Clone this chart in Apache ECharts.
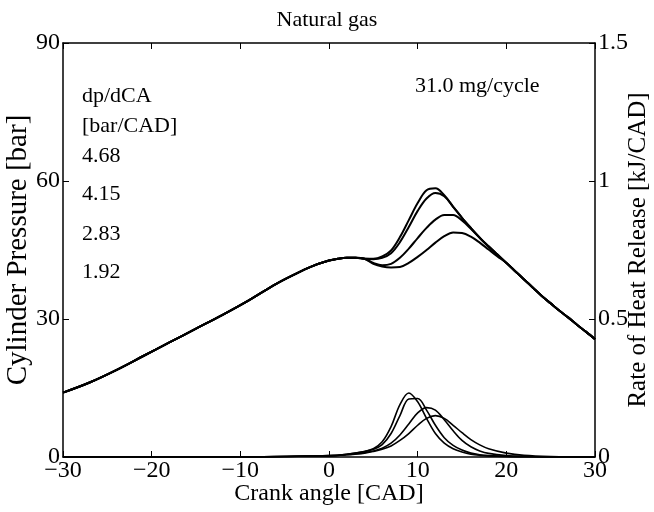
<!DOCTYPE html>
<html>
<head>
<meta charset="utf-8">
<script src="https://cdn.jsdelivr.net/npm/echarts@6/dist/echarts.min.js"></script>
<style>
  html, body { margin: 0; padding: 0; background: #fff; }
  #chart { width: 654px; height: 512px; }
</style>
</head>
<body>
<div id="chart"></div>
<script>
// motoring part, shared by all four pressure traces (CAD, bar)
var motorCad = [-30, -27, -24, -21, -18, -15, -12, -9, -6, -4, -2, 0, 1, 2, 3, 4];
var motorP = [14.0, 16.2, 18.9, 21.9, 24.9, 27.9, 30.9, 34.1, 37.6, 39.6, 41.4, 42.7, 43.1, 43.3, 43.3, 43.1];

// combustion part, one trace per dp/dCA value
var comboCad = [5, 6, 7, 8, 9, 10, 11, 12, 13, 14, 15, 16, 17, 18, 19, 20, 21, 22, 23, 24, 25, 26, 27, 28, 29, 30];
var p468 = [43.1, 43.6, 44.9, 47.8, 51.5, 55.2, 58.0, 58.4, 56.9, 54.4, 52.0, 49.8, 47.7, 45.8, 44.0, 42.2, 40.4, 38.6, 36.8, 35.0, 33.4, 31.8, 30.3, 28.7, 27.2, 25.6];
var p415 = [43.0, 43.3, 44.3, 46.7, 50.0, 53.5, 56.2, 57.4, 56.7, 54.4, 52.0, 49.8, 47.7, 45.8, 44.0, 42.2, 40.4, 38.6, 36.8, 35.0, 33.4, 31.8, 30.3, 28.7, 27.2, 25.6];
var p283 = [42.2, 41.7, 42.0, 43.3, 45.3, 47.6, 49.8, 51.6, 52.6, 52.6, 51.4, 49.6, 47.6, 45.7, 43.9, 42.2, 40.4, 38.6, 36.8, 35.0, 33.4, 31.8, 30.3, 28.7, 27.2, 25.6];
var p192 = [42.0, 41.4, 41.2, 41.3, 42.2, 43.5, 45.0, 46.6, 48.0, 48.8, 48.7, 47.9, 46.6, 45.1, 43.6, 42.2, 40.4, 38.6, 36.8, 35.0, 33.4, 31.8, 30.3, 28.7, 27.2, 25.6];

// rate of heat release (kJ/CAD)
var hrCad = [-30, -10, -5, 0, 2, 4, 5, 6, 7, 8, 9, 10, 11, 12, 13, 14, 15, 16, 17, 18, 20, 22, 25, 30];
var hr468 = [0, 0, 0.002, 0.005, 0.01, 0.02, 0.03, 0.055, 0.11, 0.19, 0.232, 0.2, 0.14, 0.085, 0.05, 0.03, 0.018, 0.01, 0.006, 0.004, 0.002, 0.001, 0, 0];
var hr415 = [0, 0, 0.002, 0.005, 0.01, 0.02, 0.028, 0.045, 0.085, 0.15, 0.21, 0.212, 0.17, 0.115, 0.07, 0.042, 0.025, 0.014, 0.008, 0.005, 0.002, 0.001, 0, 0];
var hr283 = [0, 0, 0.002, 0.004, 0.008, 0.016, 0.022, 0.032, 0.05, 0.08, 0.12, 0.16, 0.179, 0.17, 0.135, 0.095, 0.06, 0.037, 0.022, 0.013, 0.005, 0.002, 0, 0];
var hr192 = [0, 0, 0.002, 0.004, 0.008, 0.014, 0.02, 0.028, 0.04, 0.06, 0.085, 0.115, 0.14, 0.15, 0.14, 0.115, 0.088, 0.063, 0.044, 0.03, 0.014, 0.006, 0.002, 0];

var legendLines = ['dp/dCA', '[bar/CAD]', '4.68', '4.15', '2.83', '1.92'];
var fuelNote = '31.0 mg/cycle';

var font = '"Liberation Serif", "DejaVu Serif", serif';

function zip(xs, ys) {
  return xs.map(function (x, i) { return [x, ys[i]]; });
}
function pressure(ys) {
  return zip(motorCad, motorP).concat(zip(comboCad, ys));
}

var chart = echarts.init(document.getElementById('chart'));

var lineSeries = function (data, axis, width) {
  return {
    type: 'line',
    data: data,
    yAxisIndex: axis,
    smooth: 0.35,
    showSymbol: false,
    silent: true,
    lineStyle: { color: '#000', width: width }
  };
};

var frameLine = { onZero: false, show: true, lineStyle: { color: '#000', width: 1.5 } };
var innerTick = { show: true, inside: true, length: 6, lineStyle: { color: '#000' } };

var option = {
  animation: false,
  title: {
    text: 'Natural gas',
    left: 'center',
    top: 4,
    textStyle: { fontFamily: font, fontSize: 22, fontWeight: 'normal', color: '#000' }
  },
  grid: { left: 63, right: 59, top: 43, bottom: 55, outerBoundsMode: 'none', containLabel: false },
  xAxis: [{
    type: 'value',
    min: -30, max: 30, interval: 10,
    name: 'Crank angle [CAD]',
    nameLocation: 'middle',
    nameGap: 25,
    nameMoveOverlap: false,
    nameTextStyle: { fontFamily: font, fontSize: 24, color: '#000' },
    axisLine: frameLine,
    axisTick: innerTick,
    axisLabel: {
      fontFamily: font, fontSize: 24, color: '#000', margin: 2,
      formatter: function (v) { return String(v).replace('-', '\u2212'); }
    },
    splitLine: { show: false }
  }, {
    type: 'value',
    position: 'top',
    min: -30, max: 30, interval: 10,
    axisLine: frameLine,
    axisTick: innerTick,
    axisLabel: { show: false },
    splitLine: { show: false }
  }],
  yAxis: [{
    type: 'value',
    position: 'left',
    min: 0, max: 90, interval: 30,
    name: 'Cylinder Pressure [bar]',
    nameLocation: 'middle',
    nameGap: 30,
    nameMoveOverlap: false,
    nameTextStyle: { fontFamily: font, fontSize: 29, color: '#000' },
    axisLine: frameLine,
    axisTick: innerTick,
    axisLabel: { fontFamily: font, fontSize: 24, color: '#000', margin: 3 },
    splitLine: { show: false }
  }, {
    type: 'value',
    position: 'right',
    min: 0, max: 1.5, interval: 0.5,
    name: 'Rate of Heat Release [kJ/CAD]',
    nameLocation: 'middle',
    nameGap: 31,
    nameMoveOverlap: false,
    nameTextStyle: { fontFamily: font, fontSize: 25, color: '#000' },
    axisLine: frameLine,
    axisTick: innerTick,
    axisLabel: { fontFamily: font, fontSize: 24, color: '#000', margin: 3 },
    splitLine: { show: false }
  }],
  graphic: legendLines.map(function (t, i) {
    var tops = [97, 127, 157, 195, 235, 273];
    return {
      type: 'text', left: 82, top: tops[i] - 12,
      style: { text: t, font: '22px ' + font, fill: '#000' }
    };
  }).concat([{
    type: 'text', left: 415, top: 75,
    style: { text: fuelNote, font: '22px ' + font, fill: '#000' }
  }]),
  series: [
    lineSeries(pressure(p468), 0, 2),
    lineSeries(pressure(p415), 0, 2),
    lineSeries(pressure(p283), 0, 2),
    lineSeries(pressure(p192), 0, 2),
    lineSeries(zip(hrCad, hr468), 1, 1.6),
    lineSeries(zip(hrCad, hr415), 1, 1.6),
    lineSeries(zip(hrCad, hr283), 1, 1.6),
    lineSeries(zip(hrCad, hr192), 1, 1.6)
  ]
};

chart.setOption(option);
</script>
</body>
</html>
